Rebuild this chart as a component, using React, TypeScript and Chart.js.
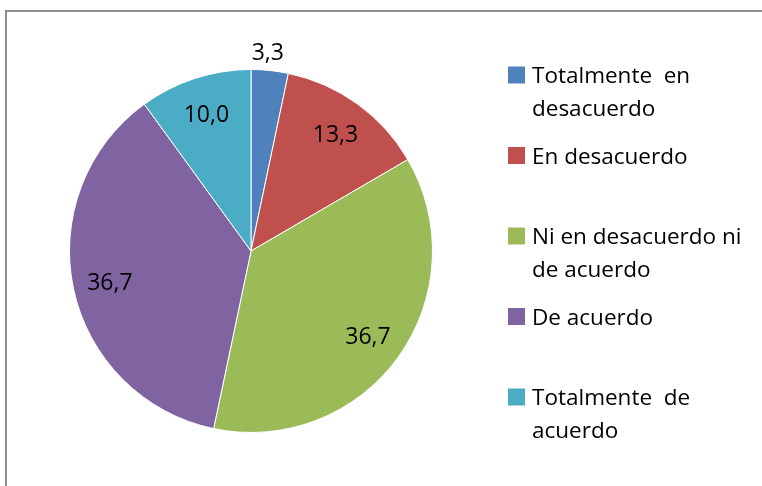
import React, { useEffect, useRef } from "react";
import { Chart, registerables } from "chart.js";

Chart.register(...registerables);

const categories = [
  "Totalmente en desacuerdo",
  "En desacuerdo",
  "Ni en desacuerdo ni de acuerdo",
  "De acuerdo",
  "Totalmente de acuerdo",
];
const legendLines = [
  ["Totalmente  en", "desacuerdo"],
  ["En desacuerdo"],
  ["Ni en desacuerdo ni", "de acuerdo"],
  ["De acuerdo"],
  ["Totalmente  de", "acuerdo"],
];
const values = [3.3, 13.3, 36.7, 36.7, 10.0];
const valueLabels = ["3,3", "13,3", "36,7", "36,7", "10,0"];
const colors = ["#4F81BD", "#C0504D", "#9BBB59", "#8064A2", "#4BACC6"];

const FONT = "'Open Sans', 'Noto Sans', sans-serif";

const labelPlugin = {
  id: "valueLabels",
  afterDatasetsDraw(chart: any) {
    const ctx = chart.ctx;
    const meta = chart.getDatasetMeta(0);
    ctx.save();
    ctx.font = `23px ${FONT}`;
    ctx.fillStyle = "#000";
    ctx.textAlign = "center";
    ctx.textBaseline = "alphabetic";
    meta.data.forEach((arc: any, i: number) => {
      const { x, y, startAngle, endAngle, outerRadius } = arc.getProps(
        ["x", "y", "startAngle", "endAngle", "outerRadius"],
        true
      );
      const mid = (startAngle + endAngle) / 2;
      const small = values[i] < 5;
      const r = small ? outerRadius + 19 : outerRadius * 0.795;
      const ang = small ? mid - 0.02 : mid;
      ctx.fillText(valueLabels[i], x + Math.cos(ang) * r, y + Math.sin(ang) * r + 8.5);
    });
    ctx.restore();
  },
};

const legendPlugin = {
  id: "customLegend",
  afterDraw(chart: any) {
    const ctx = chart.ctx;
    ctx.save();
    ctx.font = `22.5px ${FONT}`;
    ctx.textAlign = "left";
    ctx.textBaseline = "alphabetic";
    const sqX = 508;
    const sqSize = 17;
    const textX = 532;
    const top = 75;
    const step = 80.5;
    legendLines.forEach((lines, i) => {
      const cy = top + i * step;
      ctx.fillStyle = colors[i];
      ctx.fillRect(sqX, cy - sqSize / 2, sqSize, sqSize);
      ctx.fillStyle = "#000";
      lines.forEach((ln, j) => {
        ctx.fillText(ln, textX, cy + 8 + j * 32.5);
      });
    });
    ctx.restore();
  },
};

export default function App() {
  const ref = useRef<HTMLCanvasElement>(null);
  useEffect(() => {
    if (!ref.current) return;
    const chart = new Chart(ref.current, {
      type: "pie",
      data: {
        labels: categories,
        datasets: [
          {
            data: values,
            backgroundColor: colors,
            borderColor: "#ffffff",
            borderWidth: 1,
          },
        ],
      },
      options: {
        animation: false,
        responsive: false,
        maintainAspectRatio: false,
        layout: { padding: { left: 69, top: 69, right: 329, bottom: 53 } },
        plugins: {
          legend: { display: false },
          tooltip: { enabled: false },
        },
      },
      plugins: [labelPlugin, legendPlugin],
    });
    return () => chart.destroy();
  }, []);
  return (
    <div
      style={{
        position: "absolute",
        left: 0,
        top: 0,
        width: 762,
        height: 486,
        overflow: "hidden",
        background: "#fff",
      }}
    >
      <div
        style={{
          position: "absolute",
          left: 5,
          top: 10,
          width: 800,
          height: 600,
          border: "2px solid #8f8f8f",
          boxSizing: "border-box",
        }}
      />
      <canvas
        ref={ref}
        width={762}
        height={486}
        style={{ position: "absolute", left: 0, top: 0, width: 762, height: 486 }}
      />
    </div>
  );
}
